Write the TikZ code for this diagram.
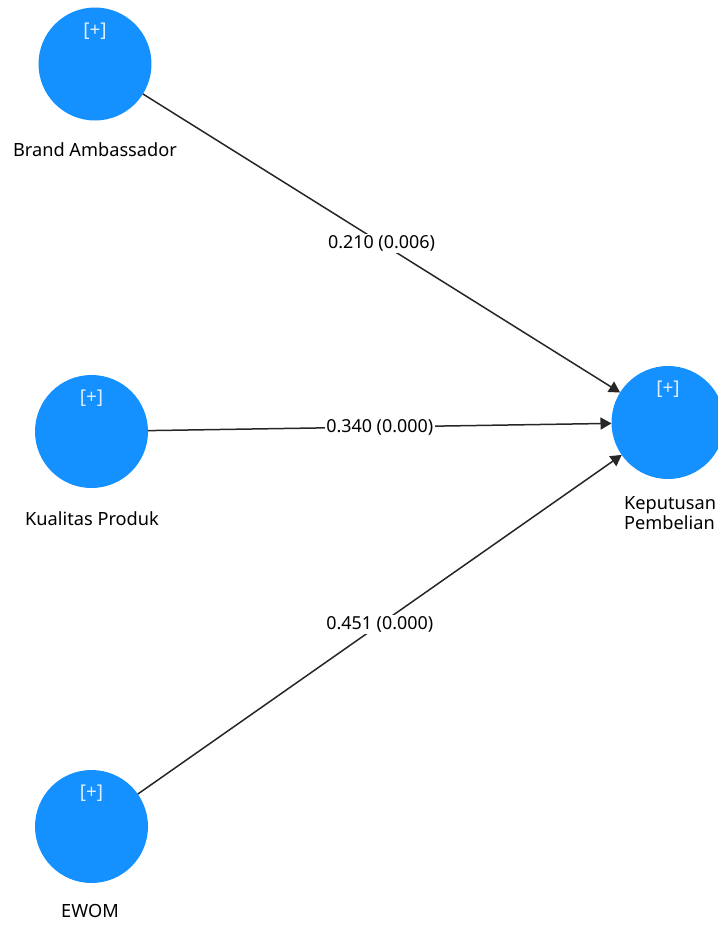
\documentclass[tikz,border=0pt]{standalone}
\usepackage{fontspec}
\setmainfont{Noto Sans}
\usetikzlibrary{arrows.meta}
\definecolor{lvblue}{RGB}{20,145,255}
\definecolor{plusc}{RGB}{225,238,255}
\begin{document}
\begin{tikzpicture}[x=1pt,y=-1pt,
  lv/.style={circle,fill=lvblue,minimum size=113pt,inner sep=0pt,outer sep=0pt},
  plus/.style={text=plusc,font=\fontsize{19}{22}\selectfont,anchor=base},
  lbl/.style={font=\fontsize{18.2}{20}\selectfont,anchor=base,inner sep=0pt},
  pathline/.style={draw=black!85,line width=1.5pt,-{Triangle[length=11pt,width=12pt]}},
  coef/.style={fill=white,inner sep=1.5pt,font=\fontsize{17.9}{20}\selectfont}]
\useasboundingbox (0,0) rectangle (718,927);
\node[lv] (ba) at (95,64) {};
\node[lv] (kp) at (91.5,431.5) {};
\node[lv] (ew) at (91.5,826.5) {};
\node[lv] (kep) at (668,422.5) {};
\node[plus] (pba) at (95,36) {[+]};
\node[plus] (pkp) at (91.5,403.5) {[+]};
\node[plus] (pew) at (91.5,798.5) {[+]};
\node[plus] (pkep) at (668,394.5) {[+]};
\node[lbl] (tba) at (95,156) {Brand Ambassador};
\node[lbl] (tkp) at (92,525) {Kualitas Produk};
\node[lbl] (tew) at (90,917) {EWOM};
\node[font=\fontsize{18.2}{20}\selectfont,align=left,anchor=north west,inner sep=0pt] (tkep) at (624,496) {Keputusan\\Pembelian};
\draw[pathline] (ba) -- node[coef] {0.210 (0.006)} (kep);
\draw[pathline] (kp) -- node[coef] {0.340 (0.000)} (kep);
\draw[pathline] (ew) -- node[coef] {0.451 (0.000)} (kep);
\end{tikzpicture}
\end{document}
